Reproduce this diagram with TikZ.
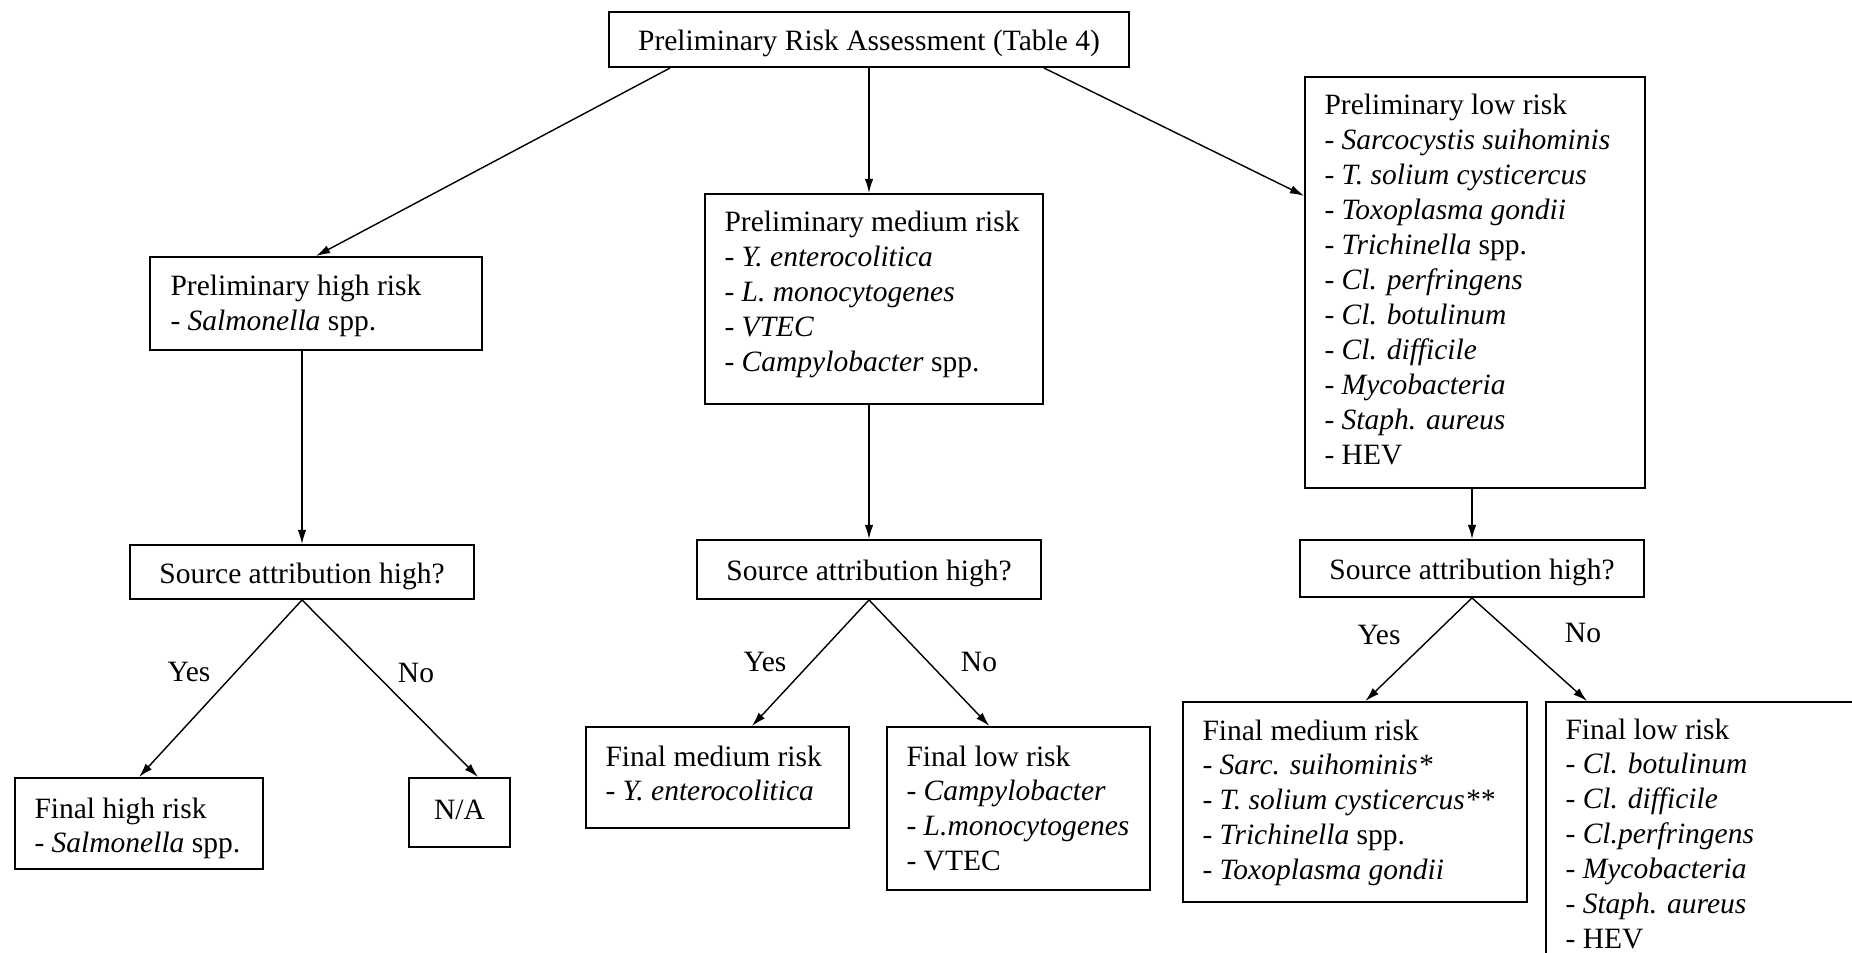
\documentclass[tikz,border=0pt]{standalone}
\usepackage{fontspec}
\setmainfont{Liberation Serif}
\usetikzlibrary{arrows.meta,calc,fit}
\begin{document}
\begin{tikzpicture}[x=0.4237pt,y=-0.4237pt,
  box/.style={draw, line width=0.8pt, inner sep=0pt},
  txt/.style={inner sep=0pt, align=left, anchor=north west, font=\fontsize{12.5}{14.8}\selectfont},
  lbl/.style={inner sep=0pt, font=\fontsize{12.5}{14.8}\selectfont},
  arr/.style={line width=0.6pt, -{Latex[length=6pt,width=3.6pt]}},
]
\fill[white] (0,0) rectangle (1852,953);
\useasboundingbox (0,0) rectangle (1852,953);

% boxes
\node[box, fit={(609,12) (1129,67)}] (top) {};
\node[box, fit={(150,257) (482,350)}] (ph) {};
\node[box, fit={(705,194) (1043,404)}] (pm) {};
\node[box, fit={(1305,77) (1645,488)}] (pl) {};
\node[box, fit={(130,545) (474,599)}] (src1) {};
\node[box, fit={(697,540) (1041,599)}] (src2) {};
\node[box, fit={(1300,540) (1644,597)}] (src3) {};
\node[box, fit={(15,778) (263,869)}] (fh) {};
\node[box, fit={(409,778) (510,847)}] (na) {};
\node[box, fit={(586,727) (849,828)}] (fm2) {};
\node[box, fit={(887,727) (1150,890)}] (fl2) {};
\node[box, fit={(1183,702) (1527,902)}] (fm3) {};
\begin{scope}
\clip (0,0) rectangle (1852,953);
\node[box, fit={(1546,702) (1920,1010)}] (fl3) {};
\end{scope}

% centred texts
\node[lbl, anchor=base] (topt) at ($(top.center)+(0,11)$) {Preliminary Risk Assessment (Table 4)};
\node[lbl, anchor=base] (src1t) at ($(src1.center)+(0,11)$) {Source attribution high?};
\node[lbl, anchor=base] (src2t) at ($(src2.center)+(0,11)$) {Source attribution high?};
\node[lbl, anchor=base] (src3t) at ($(src3.center)+(0,11)$) {Source attribution high?};
\node[lbl, anchor=base] (nat) at ($(na.north)+(0,42)$) {N/A};

% list texts
\node[txt] (pht) at ($(ph.north west)+(21,19)$) {Preliminary high risk\\- \textit{Salmonella} spp.};
\node[txt] (pmt) at ($(pm.north west)+(20,18)$) {Preliminary medium risk\\- \textit{Y. enterocolitica}\\- \textit{L. monocytogenes}\\- \textit{VTEC}\\- \textit{Campylobacter} spp.};
\node[txt] (plt) at ($(pl.north west)+(20,18)$) {Preliminary low risk\\- \textit{Sarcocystis suihominis}\\- \textit{T. solium cysticercus}\\- \textit{Toxoplasma gondii}\\- \textit{Trichinella} spp.\\- \textit{Cl. perfringens}\\- \textit{Cl. botulinum}\\- \textit{Cl. difficile}\\- \textit{Mycobacteria}\\- \textit{Staph. aureus}\\- HEV};
\node[txt] (fht) at ($(fh.north west)+(20,20)$) {Final high risk\\- \textit{Salmonella} spp.};
\node[txt] (fm2t) at ($(fm2.north west)+(20,19)$) {Final medium risk\\- \textit{Y. enterocolitica}};
\node[txt] (fl2t) at ($(fl2.north west)+(20,19)$) {Final low risk\\- \textit{Campylobacter}\\- \textit{L.monocytogenes}\\- VTEC};
\node[txt] (fm3t) at ($(fm3.north west)+(20,18)$) {Final medium risk\\- \textit{Sarc. suihominis*}\\- \textit{T. solium cysticercus**}\\- \textit{Trichinella} spp.\\- \textit{Toxoplasma gondii}};
\node[txt] (fl3t) at ($(fl3.north west)+(20,17)$) {Final low risk\\- \textit{Cl. botulinum}\\- \textit{Cl. difficile}\\- \textit{Cl.perfringens}\\- \textit{Mycobacteria}\\- \textit{Staph. aureus}\\- HEV};

% connectors
\draw[arr] ($(top.south west)!0.119!(top.south east)$) -- (ph.north);
\draw[arr] (top.south) -- (top.south |- pm.north);
\draw[arr] ($(top.south west)!0.835!(top.south east)$) -- ($(pl.north west)!0.29!(pl.south west)$);
\draw[arr] (src1.north |- ph.south) -- (src1.north);
\draw[arr] (src2.north |- pm.south) -- (src2.north);
\draw[arr] (src3.north |- pl.south) -- (src3.north);
\draw[arr] (src1.south) -- (fh.north);
\draw[arr] (src1.south) -- ($(na.north west)!0.68!(na.north east)$);
\draw[arr] (src2.south) -- ($(fm2.north west)!0.63!(fm2.north east)$);
\draw[arr] (src2.south) -- ($(fl2.north west)!0.39!(fl2.north east)$);
\draw[arr] (src3.south) -- ($(fm3.north west)!0.53!(fm3.north east)$);
\draw[arr] (src3.south) -- ($(fl3.north west)+(42,0)$);

% labels
\node[lbl] (y1) at (189,672) {Yes};
\node[lbl] (n1) at (416,673) {No};
\node[lbl] (y2) at (765,662) {Yes};
\node[lbl] (n2) at (979,662) {No};
\node[lbl] (y3) at (1379,635) {Yes};
\node[lbl] (n3) at (1583,633) {No};
\end{tikzpicture}
\end{document}
